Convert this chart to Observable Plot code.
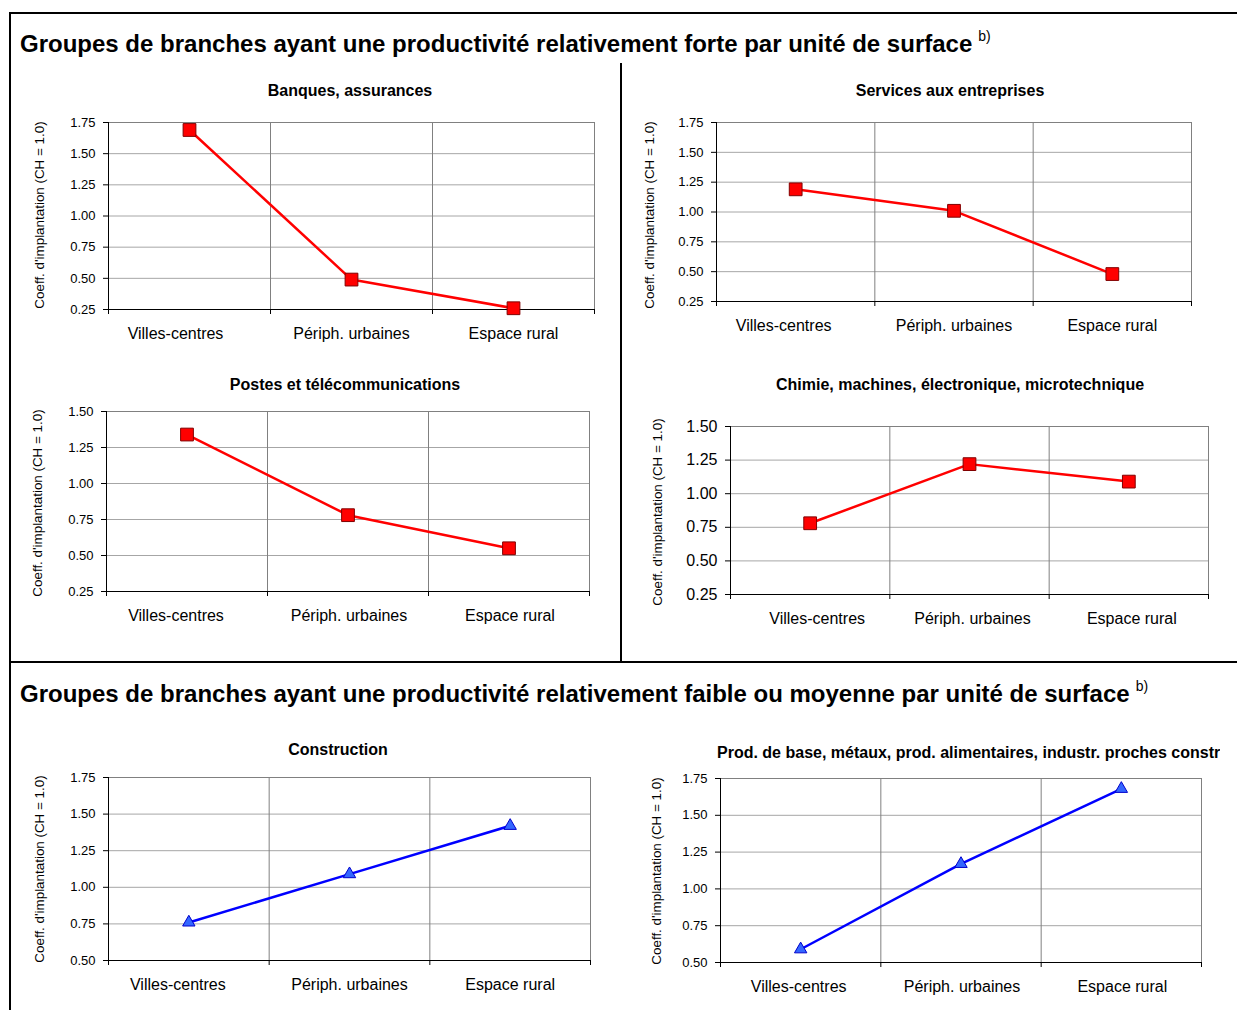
<!DOCTYPE html>
<html>
<head>
<meta charset="utf-8">
<script src="https://cdn.jsdelivr.net/npm/d3@7"></script>
<script src="https://cdn.jsdelivr.net/npm/@observablehq/plot@0.6"></script>
<style>
  html, body { margin: 0; padding: 0; background: #fff; }
  #page { position: relative; width: 1237px; height: 1010px; overflow: hidden; font-family: Arial, "Liberation Sans", sans-serif; color: #000; }
  .line { position: absolute; background: #000; }
  .section { position: absolute; left: 20px; font-weight: bold; font-size: 24px; line-height: 26px; white-space: nowrap; }
  .section sup { font-weight: normal; font-size: 14px; vertical-align: 0; position: relative; top: -11px; margin-left: 6px; }
  .ctitle { position: absolute; font-weight: bold; font-size: 16px; line-height: 18px; white-space: nowrap; transform: translateX(-50%); }
  .ylab { position: absolute; font-size: 13.4px; line-height: 14px; white-space: nowrap; transform: translate(-50%, -50%) rotate(-90deg); }
</style>
</head>
<body>
<div id="page"></div>
<script>
// ---- data ----
const categories = ["Villes-centres", "Périph. urbaines", "Espace rural"];
const banques = [1.69, 0.49, 0.26];
const services = [1.19, 1.01, 0.48];
const postes = [1.34, 0.78, 0.55];
const chimie = [0.78, 1.22, 1.09];
const construction = [0.76, 1.09, 1.42];
const prodBase = [0.59, 1.17, 1.68];
const ticks025to175 = [0.25, 0.5, 0.75, 1.0, 1.25, 1.5, 1.75];
const ticks025to150 = [0.25, 0.5, 0.75, 1.0, 1.25, 1.5];
const ticks050to175 = [0.5, 0.75, 1.0, 1.25, 1.5, 1.75];
const sectionTitles = [
  "Groupes de branches ayant une productivité relativement forte par unité de surface",
  "Groupes de branches ayant une productivité relativement faible ou moyenne par unité de surface"
];
const chartTitles = [
  "Banques, assurances",
  "Services aux entreprises",
  "Postes et télécommunications",
  "Chimie, machines, électronique, microtechnique",
  "Construction",
  "Prod. de base, métaux, prod. alimentaires, industr. proches constr"
];
const yLabel = "Coeff. d'implantation (CH = 1.0)";
const footnote = "b)";

// ---- layout ----
const page = document.getElementById("page");
function hline(x, y, w, t) { const d = document.createElement("div"); d.className = "line"; Object.assign(d.style, {left: x + "px", top: y + "px", width: w + "px", height: t + "px"}); page.appendChild(d); }
function vline(x, y, h, t) { const d = document.createElement("div"); d.className = "line"; Object.assign(d.style, {left: x + "px", top: y + "px", width: t + "px", height: h + "px"}); page.appendChild(d); }
hline(10, 12, 1240, 2);
vline(9, 12, 1000, 2);
vline(620, 63, 600, 2);
hline(10, 661, 1240, 2);

function section(text, top) {
  const d = document.createElement("div");
  d.className = "section";
  d.style.top = top + "px";
  d.textContent = text;
  const s = document.createElement("sup");
  s.textContent = footnote;
  d.appendChild(s);
  page.appendChild(d);
}
section(sectionTitles[0], 31);
section(sectionTitles[1], 681);

const panels = [
  {values: banques, ticks: ticks025to175, x0: 108, x1: 594, y0: 122, y1: 309, tickFont: 13, catFont: 16, color: "red", firstDx: -14, restDx: 0,
   title: chartTitles[0], tx: 350, ty: 91, ylx: 40, yly: 215},
  {values: services, ticks: ticks025to175, x0: 716, x1: 1191, y0: 122, y1: 301, tickFont: 13, catFont: 16, color: "red", firstDx: -12, restDx: 0,
   title: chartTitles[1], tx: 950, ty: 91, ylx: 650, yly: 215},
  {values: postes, ticks: ticks025to150, x0: 106, x1: 589, y0: 411, y1: 591, tickFont: 13, catFont: 16, color: "red", firstDx: -11, restDx: 1,
   title: chartTitles[2], tx: 345, ty: 385, ylx: 38, yly: 503},
  {values: chimie, ticks: ticks025to150, x0: 730, x1: 1208, y0: 426, y1: 594, tickFont: 16, catFont: 16, color: "red", firstDx: 7, restDx: 3,
   title: chartTitles[3], tx: 960, ty: 385, ylx: 658, yly: 512},
  {values: construction, ticks: ticks050to175, x0: 108, x1: 590, y0: 777, y1: 960, tickFont: 13, catFont: 16, color: "blue", firstDx: -11, restDx: 0,
   title: chartTitles[4], tx: 338, ty: 750, ylx: 40, yly: 869},
  {values: prodBase, ticks: ticks050to175, x0: 720, x1: 1201, y0: 778, y1: 962, tickFont: 13, catFont: 16, color: "blue", firstDx: -2, restDx: 1,
   title: chartTitles[5], tx: null, ty: 753, ylx: 657, yly: 871, tleft: 717, tclip: 503}
];

const ML = 70, MR = 10, MT = 10, MB = 40;

for (const p of panels) {
  const data = p.values.map((v, i) => ({i: i + 0.5, v}));
  const lo = p.ticks[0], hi = p.ticks[p.ticks.length - 1];
  const isRed = p.color === "red";
  const lineColor = isRed ? "#ff0000" : "#0000ff";
  const catLabel = d => categories[Math.floor(d)];
  const chart = Plot.plot({
    width: ML + (p.x1 - p.x0) + MR,
    height: MT + (p.y1 - p.y0) + MB,
    marginLeft: ML, marginRight: MR, marginTop: MT, marginBottom: MB,
    style: {fontFamily: 'Arial, "Liberation Sans", sans-serif', background: "transparent", color: "#000"},
    x: {type: "linear", domain: [0, 3]},
    y: {type: "linear", domain: [lo, hi]},
    marks: [
      Plot.gridY(p.ticks, {stroke: "#a6a6a6", strokeOpacity: 1}),
      Plot.gridX([1, 2], {stroke: "#808080", strokeOpacity: 1}),
      Plot.ruleY([hi], {stroke: "#808080"}),
      Plot.ruleX([3], {stroke: "#808080"}),
      Plot.ruleX([0], {stroke: "#000"}),
      Plot.ruleY([lo], {stroke: "#000"}),
      Plot.axisY(p.ticks, {tickSize: 5, tickPadding: 8, tickFormat: d3.format(".2f"), fontSize: p.tickFont, label: null}),
      Plot.axisX([0, 1, 2, 3], {tickSize: 5, tickFormat: () => "", label: null}),
      Plot.axisX([0.5], {tickSize: 0, tickPadding: 18, tickFormat: catLabel, fontSize: p.catFont, label: null, dx: p.firstDx}),
      Plot.axisX([1.5, 2.5], {tickSize: 0, tickPadding: 18, tickFormat: catLabel, fontSize: p.catFont, label: null, dx: p.restDx}),
      Plot.line(data, {x: "i", y: "v", stroke: lineColor, strokeWidth: 2.5}),
      Plot.dot(data, isRed
        ? {x: "i", y: "v", symbol: "square", r: 7.2, fill: "#ff0000", stroke: "#800000", strokeWidth: 1}
        : {x: "i", y: "v", symbol: "triangle", r: 4.6, fill: "#3366ff", stroke: "#0000cc", strokeWidth: 1})
    ]
  });
  chart.style.position = "absolute";
  chart.style.left = (p.x0 - ML) + "px";
  chart.style.top = (p.y0 - MT) + "px";
  chart.style.overflow = "visible";
  page.appendChild(chart);

  const t = document.createElement("div");
  t.className = "ctitle";
  t.textContent = p.title;
  t.style.top = (p.ty - 9) + "px";
  if (p.tx != null) {
    t.style.left = p.tx + "px";
  } else {
    t.style.left = p.tleft + "px";
    t.style.transform = "none";
    t.style.width = p.tclip + "px";
    t.style.overflow = "hidden";
  }
  page.appendChild(t);

  const yl = document.createElement("div");
  yl.className = "ylab";
  yl.textContent = yLabel;
  yl.style.left = p.ylx + "px";
  yl.style.top = p.yly + "px";
  page.appendChild(yl);
}
</script>
</body>
</html>
